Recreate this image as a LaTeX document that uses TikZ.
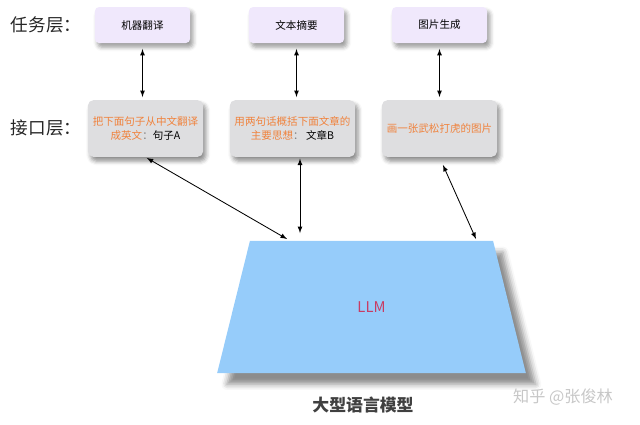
\documentclass[tikz,border=0pt]{standalone}
\usepackage{fontspec}
\setmainfont{Noto Sans CJK SC}
\usetikzlibrary{shapes.geometric,shadows.blur}
\definecolor{taskfill}{RGB}{240,232,252}
\definecolor{portfill}{RGB}{222,222,224}
\definecolor{orangetext}{RGB}{240,130,60}
\definecolor{llmfill}{RGB}{150,204,250}
\definecolor{llmtext}{RGB}{200,60,100}
\begin{document}
\begin{tikzpicture}[x=0.025cm,y=-0.025cm,
		task/.style={fill=taskfill, rounded corners=3pt, minimum width=2.38cm, minimum height=0.9cm,
			font=\fontsize{7.5}{9}\selectfont,
			blur shadow={shadow xshift=2pt, shadow yshift=-3pt, shadow opacity=40, shadow blur radius=3pt}},
		port/.style={fill=portfill, rounded corners=4pt, minimum width=2.88cm, minimum height=1.42cm,
			align=center, font=\fontsize{7.5}{10}\selectfont, text=orangetext,
			blur shadow={shadow xshift=2pt, shadow yshift=-3pt, shadow opacity=45, shadow blur radius=3pt}},
		layer/.style={font=\fontsize{12.5}{14}\selectfont, text=black!85},
		link/.style={latex-latex, semithick}]
	\useasboundingbox (0,0) rectangle (640,424);
	% task layer
	\node[layer] (tasklabel) at (46,25) {任务层：};
	\node[task] (t1) at (142.5,25) {机器翻译};
	\node[task] (t2) at (296.5,25) {文本摘要};
	\node[task] (t3) at (439.5,25) {图片生成};
	% interface layer
	\node[layer] (portlabel) at (46,128) {接口层：};
	\node[port] (i1) at (145.5,128.5) {把下面句子从中文翻译\\成英文{\color{gray}：}{\color{black}句子A}};
	\node[port] (i2) at (292.5,128.5) {用两句话概括下面文章的\\主要思想{\color{gray}：} {\color{black}文章B}};
	\node[port] (i3) at (439.5,128.5) {画一张武松打虎的图片};
	% model
	\node[trapezium, trapezium stretches, trapezium left angle=76, trapezium right angle=76,
		fill=llmfill, minimum width=7.72cm, minimum height=3.3cm, text=llmtext,
		font=\fontsize{10.5}{12}\selectfont,
		blur shadow={shadow xshift=7pt, shadow yshift=-8pt, shadow opacity=45, shadow blur radius=4pt}] (llm) at (371.5,307) {LLM};
	\node[font=\bfseries\fontsize{12}{14}\selectfont, text=black!75] (llmname) at (363,405) {大型语言模型};
	\node[font=\fontsize{11.5}{14}\selectfont, text=black!22] (mark) at (563,397) {知乎 @张俊林};
	\coordinate (a1) at (287,239);
	\coordinate (a2) at (300,233);
	\coordinate (a3) at (476,239);
	% links
	\foreach \i in {1,2,3} {
		\draw[link, shorten <=4pt, shorten >=2pt] (t\i.south) -- (t\i.south |- i\i.north);
	}
	\draw[link, shorten <=1pt] (i1.south) -- (a1);
	\draw[link, shorten <=1pt] (i2.south -| a2) -- (a2);
	\draw[link, shorten <=6pt] (i3.south) -- (a3);
\end{tikzpicture}
\end{document}
